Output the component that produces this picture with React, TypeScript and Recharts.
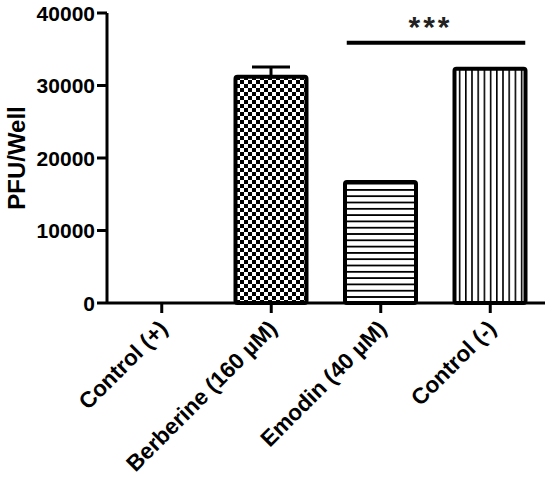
import { BarChart, Bar, XAxis, YAxis, Cell, ErrorBar, ReferenceLine } from "recharts";

// --- Data ---
const CATEGORIES = ["Control (+)", "Berberine (160 µM)", "Emodin (40 µM)", "Control (-)"];
const PFU_PER_WELL = [0, 31200, 16700, 32300];
const PFU_ERR_UP = [null, 1350, null, null];
const Y_TICKS = [0, 10000, 20000, 30000, 40000];
const BAR_FILLS = ["#ffffff", "url(#checker)", "url(#hlines)", "url(#vlines)"];

const SIG_FROM = "Emodin (40 µM)";
const SIG_TO = "Control (-)";
const SIG_LEVEL = 35900;
const SIG_TEXT = "***";

const FONT = "'Liberation Sans', Arial, sans-serif";

const chartData = CATEGORIES.map((name, i) => ({
  name,
  pfu: PFU_PER_WELL[i],
  err: PFU_ERR_UP[i] == null ? undefined : [0, PFU_ERR_UP[i]],
}));

function ValueTick(props: { x?: number; y?: number; payload?: { value: number } }) {
  const { x = 0, y = 0, payload } = props;
  return (
    <text
      x={x}
      y={y}
      textAnchor="end"
      dominantBaseline="central"
      fontFamily={FONT}
      fontWeight="bold"
      fontSize={21}
      fill="#000"
    >
      {payload?.value}
    </text>
  );
}

function CategoryTick(props: { x?: number; y?: number; payload?: { value: string } }) {
  const { x = 0, y = 0, payload } = props;
  const tx = x + 7;
  const ty = y + 17;
  return (
    <text
      x={tx}
      y={ty}
      transform={`rotate(-45 ${tx} ${ty})`}
      textAnchor="end"
      fontFamily={FONT}
      fontWeight="bold"
      fontSize={22.5}
      fill="#000"
    >
      {payload?.value}
    </text>
  );
}

// significance bracket, stretched out to the outer edges of the two bars
function SigBar(props: { x1?: number; x2?: number; y1?: number }) {
  const { x1 = 0, x2 = 0, y1 = 0 } = props;
  return (
    <g>
      <line x1={x1 - 34} x2={x2 + 35} y1={y1} y2={y1} stroke="#000" strokeWidth={4} />
      <text
        x={(x1 + x2) / 2 - 5}
        y={y1 - 6}
        textAnchor="middle"
        fontFamily={FONT}
        fontWeight="bold"
        fontSize={30}
        letterSpacing={3}
        fill="#222"
      >
        {SIG_TEXT}
      </text>
    </g>
  );
}

export default function App() {
  return (
    <div style={{ position: "absolute", left: 0, top: 0, width: 550, height: 478, background: "#fff" }}>
      <svg width={0} height={0} style={{ position: "absolute" }}>
        <defs>
          <pattern id="checker" width={8} height={8} patternUnits="userSpaceOnUse">
            <rect width={8} height={8} fill="#fff" />
            <rect x={0} y={0} width={4} height={4} fill="#000" />
            <rect x={4} y={4} width={4} height={4} fill="#000" />
          </pattern>
          <pattern id="hlines" width={6.3} height={6.3} patternUnits="userSpaceOnUse">
            <rect width={6.3} height={6.3} fill="#fff" />
            <rect x={0} y={0} width={6.3} height={1.8} fill="#000" />
          </pattern>
          <pattern id="vlines" width={6.2} height={6.2} patternUnits="userSpaceOnUse">
            <rect width={6.2} height={6.2} fill="#fff" />
            <rect x={0} y={0} width={1.6} height={6.2} fill="#000" />
          </pattern>
        </defs>
      </svg>
      <BarChart
        width={550}
        height={478}
        data={chartData}
        margin={{ top: 13, right: 5, left: 0, bottom: 0 }}
      >
        <XAxis
          dataKey="name"
          interval={0}
          height={175}
          tickSize={10}
          tickMargin={0}
          axisLine={{ stroke: "#000", strokeWidth: 3 }}
          tickLine={{ stroke: "#000", strokeWidth: 3 }}
          tick={<CategoryTick />}
        />
        <YAxis
          width={107}
          domain={[0, 40000]}
          ticks={Y_TICKS}
          interval={0}
          tickSize={10}
          tickMargin={2}
          axisLine={{ stroke: "#000", strokeWidth: 3 }}
          tickLine={{ stroke: "#000", strokeWidth: 3 }}
          tick={<ValueTick />}
          label={{
            value: "PFU/Well",
            angle: -90,
            position: "center",
            dx: -37,
            style: { fontFamily: FONT, fontWeight: "bold", fontSize: 24, fill: "#000" },
          }}
        />
        <Bar
          dataKey="pfu"
          barSize={71}
          stroke="#000"
          strokeWidth={4}
          radius={2}
          isAnimationActive={false}
        >
          {chartData.map((d, i) => (
            <Cell key={d.name} fill={BAR_FILLS[i]} />
          ))}
          <ErrorBar dataKey="err" width={19} stroke="#000" strokeWidth={3} direction="y" />
        </Bar>
        <ReferenceLine
          segment={[
            { x: SIG_FROM, y: SIG_LEVEL },
            { x: SIG_TO, y: SIG_LEVEL },
          ]}
          shape={<SigBar />}
        />
      </BarChart>
    </div>
  );
}
